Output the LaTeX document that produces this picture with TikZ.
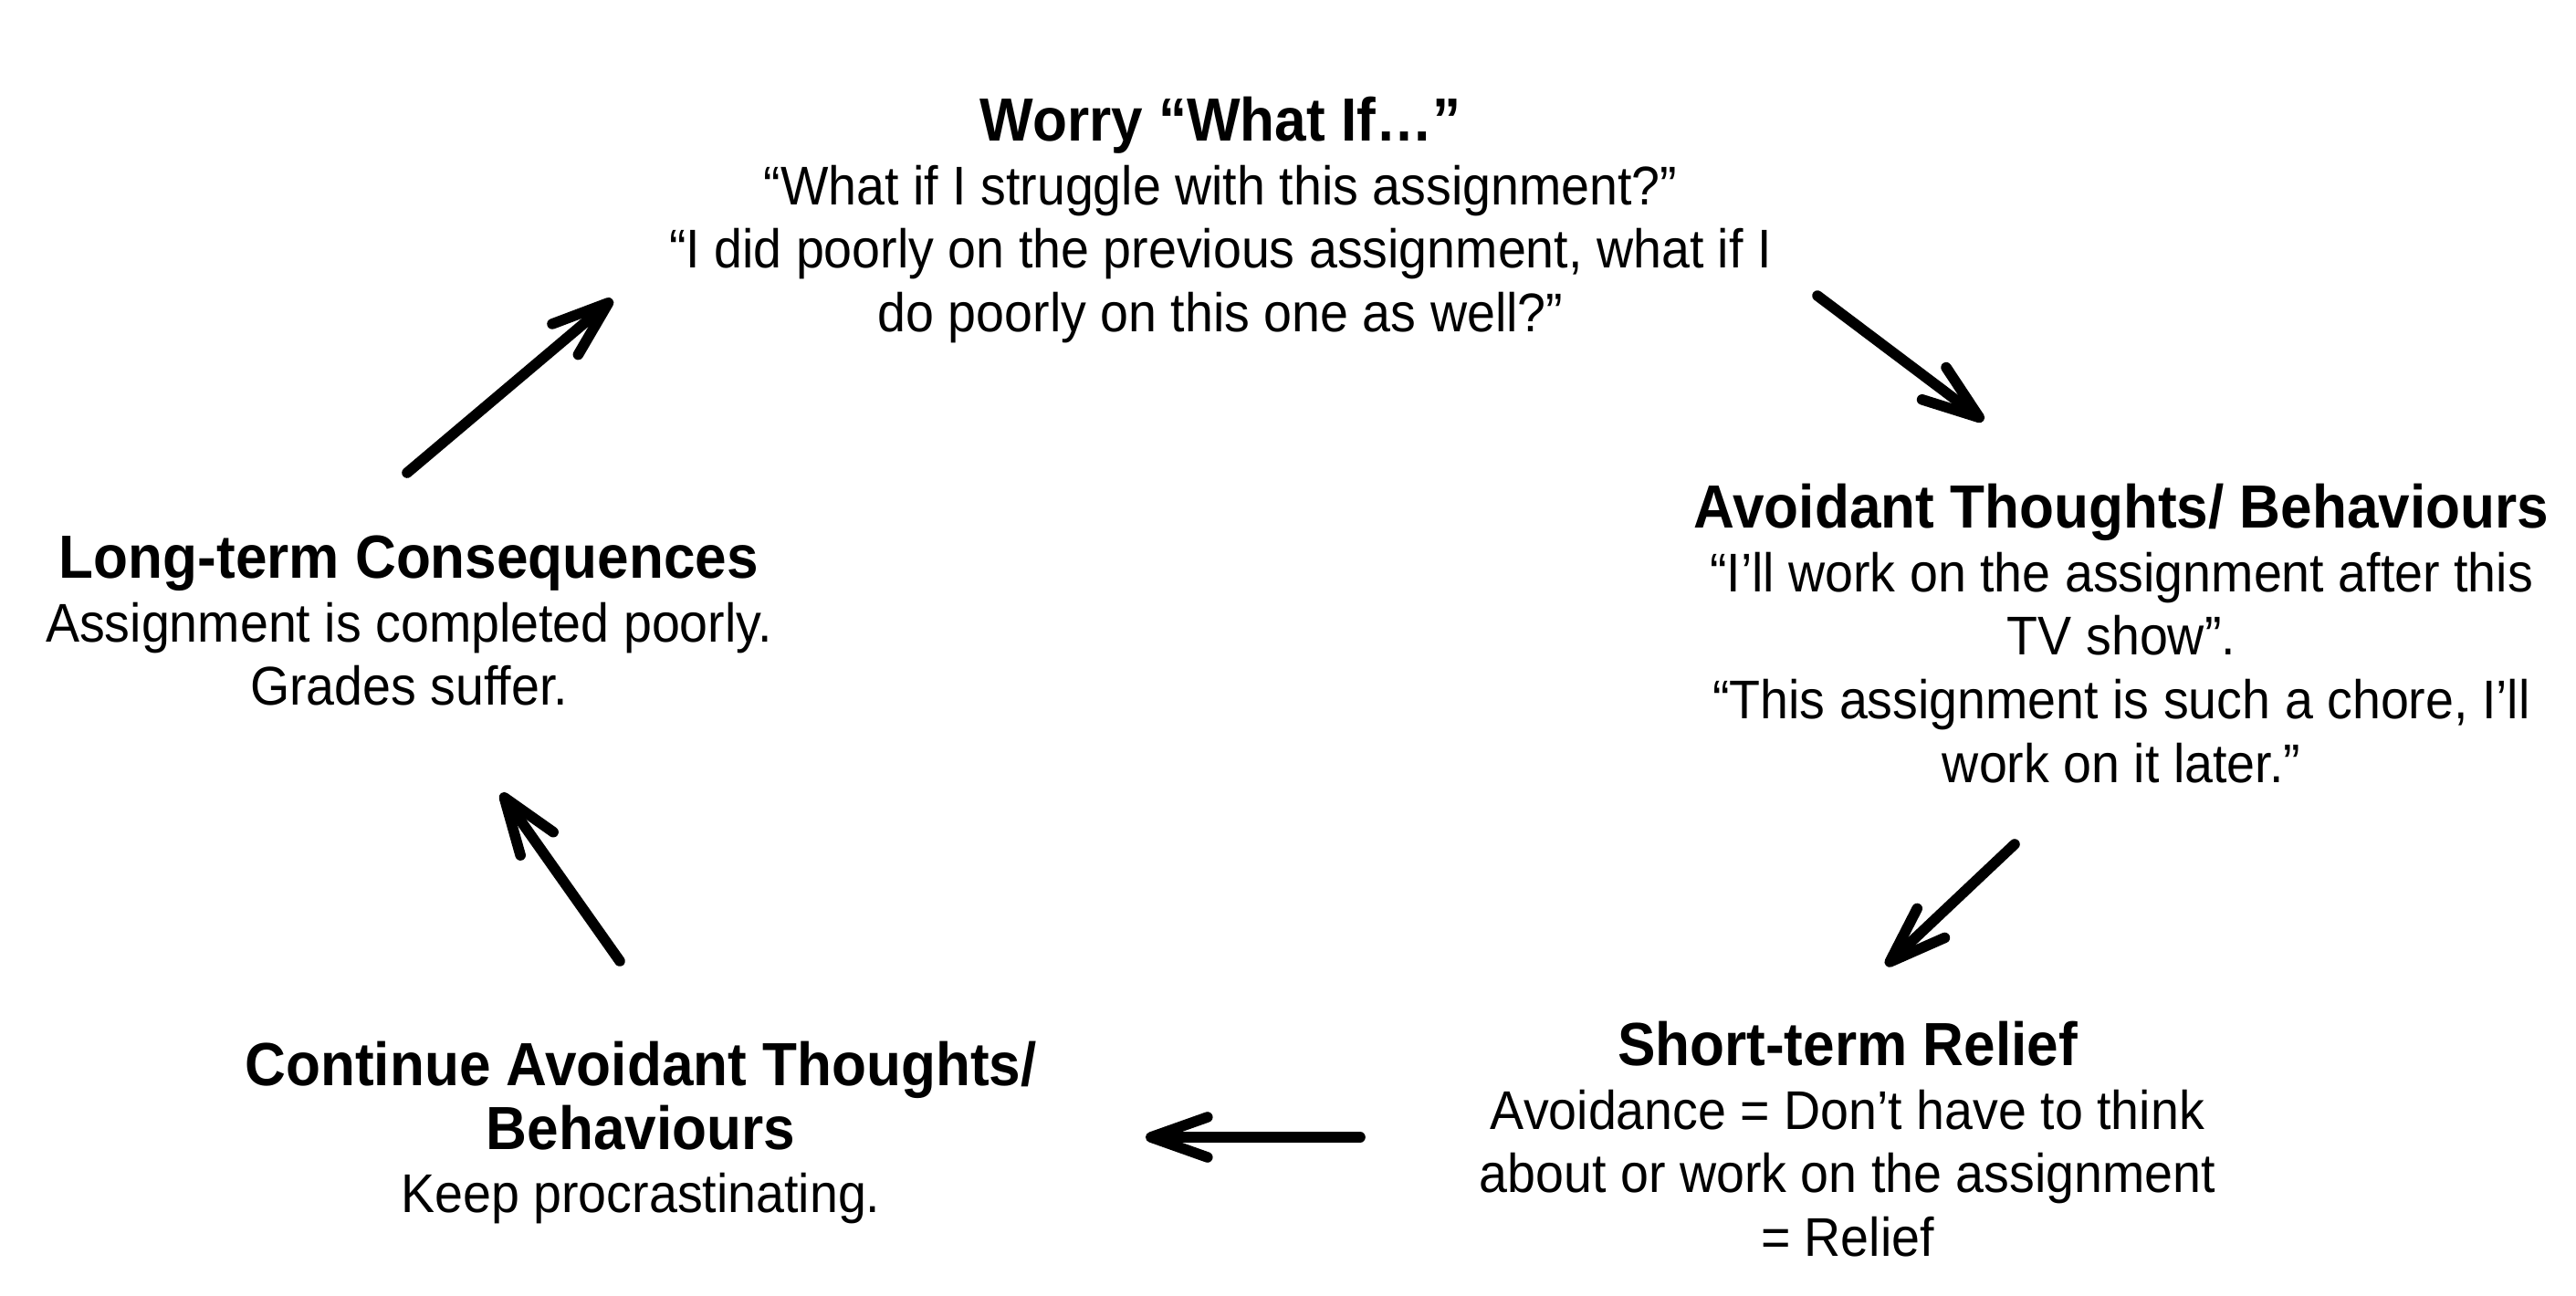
\documentclass[tikz,border=0pt]{standalone}
\usepackage{fontspec}
\setmainfont{Liberation Sans}[FakeStretch=0.93]
\usetikzlibrary{arrows.meta}

\newcommand{\steptitle}[1]{{\fontsize{19}{19.8}\selectfont\bfseries #1}}

\tikzset{
  step text/.style={align=center, inner sep=0pt, font=\fontsize{17}{19.8}\selectfont},
  cycle arrow/.style={line width=3.3pt, line cap=round, -{Straight Barb[length=0.62cm, width=0.44cm, round]}}
}

\begin{document}
\begin{tikzpicture}[y=-1cm]
\useasboundingbox (0,0) rectangle (28.22,14.20);

% steps of the cycle:
\node[step text] (worry) at (13.37,2.41) {\steptitle{Worry “What If…”}\\
  “What if I struggle with this assignment?”\\
  “I did poorly on the previous assignment, what if I\\
  do poorly on this one as well?”};
\node[step text] (avoid) at (23.24,6.94) {\steptitle{Avoidant Thoughts/ Behaviours}\\
  “I’ll work on the assignment after this\\
  TV show”.\\
  “This assignment is such a chore, I’ll\\
  work on it later.”};
\node[step text] (relief) at (20.24,12.48) {\steptitle{Short-term Relief}\\
  Avoidance = Don’t have to think\\
  about or work on the assignment\\
  = Relief};
\node[step text] (continue) at (7.02,12.41) {\steptitle{Continue Avoidant Thoughts/}\\
  \steptitle{Behaviours}\\
  Keep procrastinating.};
\node[step text] (longterm) at (4.48,6.80) {\steptitle{Long-term Consequences}\\
  Assignment is completed poorly.\\
  Grades suffer.};

% arrow ends:
\coordinate (a1) at (19.91,3.24);
\coordinate (b1) at (21.73,4.61);
\coordinate (a2) at (22.07,9.25);
\coordinate (b2) at (20.66,10.58);
\coordinate (a3) at (14.90,12.46);
\coordinate (b3) at (12.55,12.46);
\coordinate (a4) at (6.79,10.53);
\coordinate (b4) at (5.49,8.69);
\coordinate (a5) at (4.46,5.18);
\coordinate (b5) at (6.71,3.28);

\draw[cycle arrow] (a1) -- (b1);
\draw[cycle arrow] (a2) -- (b2);
\draw[cycle arrow] (a3) -- (b3);
\draw[cycle arrow] (a4) -- (b4);
\draw[cycle arrow] (a5) -- (b5);

\end{tikzpicture}
\end{document}
